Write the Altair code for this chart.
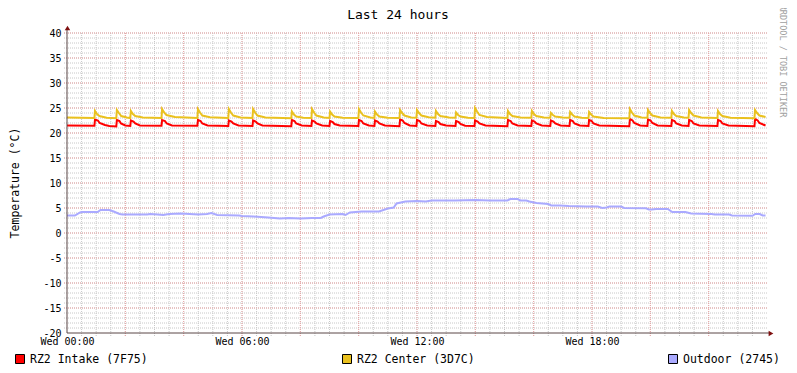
import altair as alt
import pandas as pd
import numpy as np

FONT = "DejaVu Sans Mono"

series_names = ["RZ2 Intake (7F75)", "RZ2 Center (3D7C)", "Outdoor (2745)"]
series_colors = ["#FF0000", "#EAC11E", "#AAAAFF"]

x_tick_hours = [0, 6, 12, 18]
x_tick_labels = ["Wed 00:00", "Wed 06:00", "Wed 12:00", "Wed 18:00"]
y_tick_values = [-20, -15, -10, -5, 0, 5, 10, 15, 20, 25, 30, 35, 40]

# (hour, °C)
intake = [
    (0.00, 21.5),
    (0.94, 21.45), (0.96, 22.7), (1.06, 22.5), (1.12, 22.0), (1.30, 21.6), (1.45, 21.4),
    (1.69, 21.3), (1.71, 22.6), (1.80, 22.4), (1.85, 21.9), (2.00, 21.5),
    (2.17, 21.4), (2.19, 22.5), (2.28, 22.3), (2.34, 21.9), (2.50, 21.5),
    (3.24, 21.45), (3.26, 22.6), (3.36, 22.4), (3.42, 21.9), (3.60, 21.5),
    (4.47, 21.45), (4.49, 22.6), (4.58, 22.4), (4.64, 21.9), (4.82, 21.5),
    (5.53, 21.4), (5.55, 22.5), (5.64, 22.3), (5.70, 21.9), (5.88, 21.5),
    (6.36, 21.4), (6.38, 22.5), (6.47, 22.3), (6.53, 21.9), (6.70, 21.5),
    (7.69, 21.35), (7.71, 22.6), (7.80, 22.4), (7.86, 21.9), (8.05, 21.5),
    (8.38, 21.4), (8.40, 22.5), (8.49, 22.3), (8.55, 21.9), (8.75, 21.5),
    (9.00, 21.4), (9.02, 22.4), (9.11, 22.2), (9.17, 21.8), (9.35, 21.5),
    (9.99, 21.4), (10.01, 22.6), (10.10, 22.4), (10.16, 21.9), (10.35, 21.5),
    (10.54, 21.4), (10.56, 22.5), (10.65, 22.3), (10.71, 21.9), (10.90, 21.5),
    (11.40, 21.35), (11.42, 22.7), (11.51, 22.5), (11.57, 22.0), (11.75, 21.5),
    (11.98, 21.4), (12.00, 22.6), (12.09, 22.4), (12.15, 21.9), (12.35, 21.5),
    (12.63, 21.4), (12.65, 22.4), (12.74, 22.2), (12.80, 21.8), (13.00, 21.5),
    (13.32, 21.4), (13.34, 22.4), (13.43, 22.2), (13.49, 21.8), (13.65, 21.45),
    (13.97, 21.4), (13.99, 22.5), (14.08, 22.3), (14.14, 21.9), (14.35, 21.5),
    (15.10, 21.35), (15.12, 22.6), (15.21, 22.4), (15.27, 21.9), (15.45, 21.5),
    (15.92, 21.4), (15.94, 22.5), (16.03, 22.3), (16.09, 21.9), (16.28, 21.5),
    (16.57, 21.4), (16.59, 22.5), (16.68, 22.3), (16.74, 21.9), (16.92, 21.5),
    (17.23, 21.4), (17.25, 22.6), (17.34, 22.4), (17.40, 21.9), (17.58, 21.5),
    (17.88, 21.4), (17.90, 22.6), (17.99, 22.4), (18.05, 21.9), (18.25, 21.5),
    (19.28, 21.35), (19.30, 22.8), (19.39, 22.5), (19.45, 22.0), (19.65, 21.5),
    (19.90, 21.4), (19.92, 22.7), (20.01, 22.5), (20.07, 22.0), (20.25, 21.5),
    (20.72, 21.4), (20.74, 22.6), (20.83, 22.4), (20.89, 21.9), (21.08, 21.5),
    (21.31, 21.4), (21.33, 22.6), (21.42, 22.4), (21.48, 21.9), (21.68, 21.5),
    (22.30, 21.4), (22.32, 22.6), (22.41, 22.4), (22.47, 21.9), (22.68, 21.5),
    (23.57, 21.35), (23.59, 22.8), (23.68, 22.5), (23.74, 22.0), (23.95, 21.5),
]

center = [
    (0.00, 23.1),
    (0.94, 23.0), (0.96, 24.4), (1.03, 23.8), (1.11, 23.4), (1.36, 23.05),
    (1.69, 22.95), (1.71, 24.6), (1.78, 24.0), (1.86, 23.4), (2.05, 23.1),
    (2.17, 23.0), (2.19, 24.4), (2.26, 23.8), (2.34, 23.4), (2.60, 23.1),
    (3.24, 23.0), (3.26, 24.8), (3.33, 24.1), (3.41, 23.6), (3.70, 23.2),
    (4.47, 23.0), (4.49, 24.8), (4.56, 24.1), (4.64, 23.5), (4.90, 23.15),
    (5.53, 23.0), (5.55, 24.8), (5.62, 24.1), (5.70, 23.5), (5.95, 23.1),
    (6.36, 23.0), (6.38, 24.8), (6.45, 24.1), (6.53, 23.5), (6.80, 23.1),
    (7.69, 22.95), (7.71, 24.3), (7.78, 23.7), (7.86, 23.3), (8.10, 23.05),
    (8.38, 23.0), (8.40, 24.8), (8.47, 24.1), (8.55, 23.5), (8.80, 23.1),
    (9.00, 23.0), (9.02, 24.3), (9.09, 23.7), (9.17, 23.3), (9.45, 23.05),
    (9.99, 23.0), (10.01, 24.8), (10.08, 24.1), (10.16, 23.5), (10.40, 23.1),
    (10.54, 23.0), (10.56, 24.3), (10.63, 23.7), (10.71, 23.3), (11.00, 23.05),
    (11.40, 23.0), (11.42, 24.6), (11.49, 24.0), (11.57, 23.5), (11.80, 23.1),
    (11.98, 23.05), (12.00, 24.6), (12.07, 24.0), (12.15, 23.5), (12.40, 23.15),
    (12.63, 23.05), (12.65, 24.4), (12.72, 23.8), (12.80, 23.4), (13.10, 23.1),
    (13.32, 23.05), (13.34, 24.1), (13.41, 23.6), (13.49, 23.3), (13.75, 23.05),
    (13.97, 23.0), (13.99, 25.0), (14.06, 24.3), (14.14, 23.6), (14.40, 23.2),
    (15.10, 23.0), (15.12, 24.4), (15.19, 23.8), (15.27, 23.4), (15.55, 23.1),
    (15.92, 23.05), (15.94, 24.4), (16.01, 23.8), (16.09, 23.4), (16.35, 23.1),
    (16.57, 23.05), (16.59, 24.0), (16.66, 23.6), (16.74, 23.3), (17.00, 23.1),
    (17.23, 23.05), (17.25, 24.2), (17.32, 23.7), (17.40, 23.3), (17.65, 23.05),
    (17.88, 23.0), (17.90, 24.2), (17.97, 23.7), (18.05, 23.3), (18.40, 23.0),
    (19.28, 22.95), (19.30, 24.8), (19.37, 24.1), (19.45, 23.5), (19.70, 23.1),
    (19.90, 23.05), (19.92, 24.6), (19.99, 24.0), (20.07, 23.5), (20.35, 23.1),
    (20.72, 23.05), (20.74, 24.4), (20.81, 23.8), (20.89, 23.4), (21.15, 23.1),
    (21.31, 23.05), (21.33, 24.6), (21.40, 24.0), (21.48, 23.5), (21.75, 23.1),
    (22.30, 23.0), (22.32, 24.4), (22.39, 23.8), (22.47, 23.4), (22.75, 23.05),
    (23.57, 22.95), (23.59, 24.6), (23.66, 24.0), (23.74, 23.5), (23.95, 23.2),
]

outdoor = [
    (0.00, 3.5), (0.27, 3.5), (0.45, 4.1), (0.50, 4.2), (1.05, 4.2), (1.15, 4.6),
    (1.45, 4.6), (1.60, 4.3), (1.80, 3.8), (1.90, 3.7), (2.75, 3.7), (2.85, 3.8),
    (3.10, 3.7), (3.30, 3.6), (3.50, 3.8), (3.90, 3.9), (4.20, 3.8), (4.50, 3.7),
    (4.80, 3.8), (4.95, 4.0), (5.15, 3.6), (5.90, 3.5), (6.00, 3.4), (6.40, 3.3),
    (6.90, 3.1), (7.10, 3.0), (7.30, 2.9), (7.60, 3.0), (8.00, 2.9), (8.40, 3.0),
    (8.70, 3.0), (8.80, 3.3), (9.00, 3.7), (9.45, 3.8), (9.55, 3.6), (9.70, 4.1),
    (10.10, 4.3), (10.70, 4.3), (11.00, 4.9), (11.20, 5.1), (11.30, 5.9), (11.60, 6.3),
    (12.00, 6.4), (12.30, 6.3), (12.50, 6.5), (13.30, 6.5), (14.00, 6.6), (14.50, 6.5),
    (15.10, 6.5), (15.20, 6.8), (15.45, 6.8), (15.55, 6.5), (15.75, 6.5), (15.85, 6.3),
    (16.10, 6.0), (16.50, 5.8), (16.60, 5.5), (16.90, 5.5), (17.20, 5.4), (17.80, 5.3),
    (18.20, 5.3), (18.35, 5.0), (18.50, 5.1), (18.60, 5.3), (19.00, 5.3), (19.10, 5.0),
    (19.85, 4.95), (19.95, 4.7), (20.05, 4.7), (20.20, 4.8), (20.60, 4.8), (20.75, 4.2),
    (21.20, 4.2), (21.40, 3.9), (22.10, 3.8), (22.20, 3.7), (22.70, 3.7), (22.80, 3.5),
    (23.50, 3.45), (23.60, 3.8), (23.75, 3.8), (23.85, 3.5), (23.95, 3.5),
]

frames = []
for name, pts in zip(series_names, [intake, center, outdoor]):
    d = pd.DataFrame(pts, columns=["hour", "temp"])
    d["series"] = name
    frames.append(d)
df = pd.concat(frames, ignore_index=True)

W, H = 700, 300
xscale = alt.Scale(domain=[0, 24], nice=False, zero=False)
yscale = alt.Scale(domain=[-20, 40], nice=False, zero=False)

label_expr = "[" + ",".join("'" + s + "'" for s in x_tick_labels) + "][round(datum.value/6)]"
ylabel_expr = "datum.value < 0 ? '-' + abs(datum.value) : '' + datum.value"

x_axis = alt.Axis(values=x_tick_hours, labelExpr=label_expr, grid=False, domain=False,
                  ticks=False, labelPadding=3, labelFont=FONT, labelFontSize=10,
                  labelColor="#000000", labelBaseline="top", labelFlush=False,
                  labelOverlap=False, title=None)
y_axis = alt.Axis(values=y_tick_values, labelExpr=ylabel_expr, grid=False,
                  domain=False, ticks=False, labelPadding=6, labelFont=FONT,
                  labelFontSize=10, labelColor="#000000", labelOverlap=False,
                  labelFlush=False, title=None)

# grid positions
v_minor = pd.DataFrame({"h": np.arange(0.5, 24, 0.5)})
v_major = pd.DataFrame({"h": np.arange(2, 24, 2)})
h_minor = pd.DataFrame({"t": np.arange(-19, 41, 1)})
h_major = pd.DataFrame({"t": np.arange(-15, 41, 5)})

grid_minor_color = "#C8C8C8"
grid_major_color = "#EBA4A4"

rule_kw = dict(strokeDash=[1, 1], strokeWidth=1, strokeOffset=0.5)
vmin = alt.Chart(v_minor).mark_rule(color=grid_minor_color, **rule_kw).encode(
    x=alt.X("h:Q", scale=xscale, axis=x_axis), y=alt.value(0), y2=alt.value(H + 3))
vmaj = alt.Chart(v_major).mark_rule(color=grid_major_color, **rule_kw).encode(
    x=alt.X("h:Q", scale=xscale, axis=x_axis), y=alt.value(0), y2=alt.value(H + 3))
hmin = alt.Chart(h_minor).mark_rule(color=grid_minor_color, **rule_kw).encode(
    y=alt.Y("t:Q", scale=yscale, axis=y_axis), x=alt.value(-3), x2=alt.value(W + 1))
hmaj = alt.Chart(h_major).mark_rule(color=grid_major_color, **rule_kw).encode(
    y=alt.Y("t:Q", scale=yscale, axis=y_axis), x=alt.value(-3), x2=alt.value(W + 1))

lines = alt.Chart(df).mark_line(strokeWidth=2, interpolate="linear").encode(
    x=alt.X("hour:Q", scale=xscale, axis=x_axis),
    y=alt.Y("temp:Q", scale=yscale, axis=y_axis),
    color=alt.Color("series:N", scale=alt.Scale(domain=series_names, range=series_colors),
                    legend=None),
    detail="series:N",
)

axis_color = "#5A4646"
arrow_color = "#7F1010"
yaxis_line = alt.Chart(pd.DataFrame({"a": [0]})).mark_rule(
    color=axis_color, strokeWidth=1, strokeOffset=0.5).encode(
    x=alt.value(0), y=alt.value(-5), y2=alt.value(H))
xaxis_line = alt.Chart(pd.DataFrame({"a": [0]})).mark_rule(
    color=axis_color, strokeWidth=1, strokeOffset=0.5).encode(
    x=alt.value(0), x2=alt.value(W + 4), y=alt.value(H))
up_arrow = alt.Chart(pd.DataFrame({"a": [0]})).mark_point(
    shape="triangle-up", filled=True, color=arrow_color, size=30, opacity=1).encode(
    x=alt.value(0.5), y=alt.value(-5))
right_arrow = alt.Chart(pd.DataFrame({"a": [0]})).mark_point(
    shape="triangle-right", filled=True, color=arrow_color, size=30, opacity=1).encode(
    x=alt.value(W + 4), y=alt.value(H + 0.5))

title = alt.Chart(pd.DataFrame({"t": ["Last 24 hours"]})).mark_text(
    font=FONT, fontSize=13, align="center", baseline="alphabetic", color="#000000").encode(
    text="t:N", x=alt.value(331), y=alt.value(-14))

ytitle = alt.Chart(pd.DataFrame({"t": ["Temperature (°C)"]})).mark_text(
    font=FONT, fontSize=11.5, align="center", baseline="middle", angle=270, color="#000000").encode(
    text="t:N", x=alt.value(-51), y=alt.value(150))

watermark = alt.Chart(pd.DataFrame({"t": ["RRDTOOL / TOBI OETIKER"]})).mark_text(
    font=FONT, fontSize=8.5, align="center", baseline="middle", angle=90, color="#A0A0A0").encode(
    text="t:N", x=alt.value(716), y=alt.value(28))

legend_layers = []
legend_x = [-52, 275, 601]
for name, col, lx in zip(series_names, series_colors, legend_x):
    ld = pd.DataFrame({"name": [name]})
    legend_layers.append(
        alt.Chart(ld).mark_rect(color=col, stroke="#000000", strokeWidth=1).encode(
            x=alt.value(lx + 0.5), x2=alt.value(lx + 9.5), y=alt.value(321.5), y2=alt.value(330.5)))
    legend_layers.append(
        alt.Chart(ld).mark_text(font=FONT, fontSize=11.5, align="left", baseline="alphabetic",
                                color="#000000").encode(
            text="name:N", x=alt.value(lx + 15), y=alt.value(329.5)))

chart = alt.layer(
    vmin, hmin, vmaj, hmaj, lines, yaxis_line, xaxis_line, up_arrow, right_arrow,
    title, ytitle, watermark, *legend_layers
).properties(
    width=W, height=H,
    padding={"left": 59, "top": 25, "right": 22, "bottom": 32},
    autosize=alt.AutoSizeParams(type="none"),
    background="#FFFFFF",
).configure_view(stroke=None)

chart.save("out.html", embed_options={"renderer": "svg", "actions": False})
